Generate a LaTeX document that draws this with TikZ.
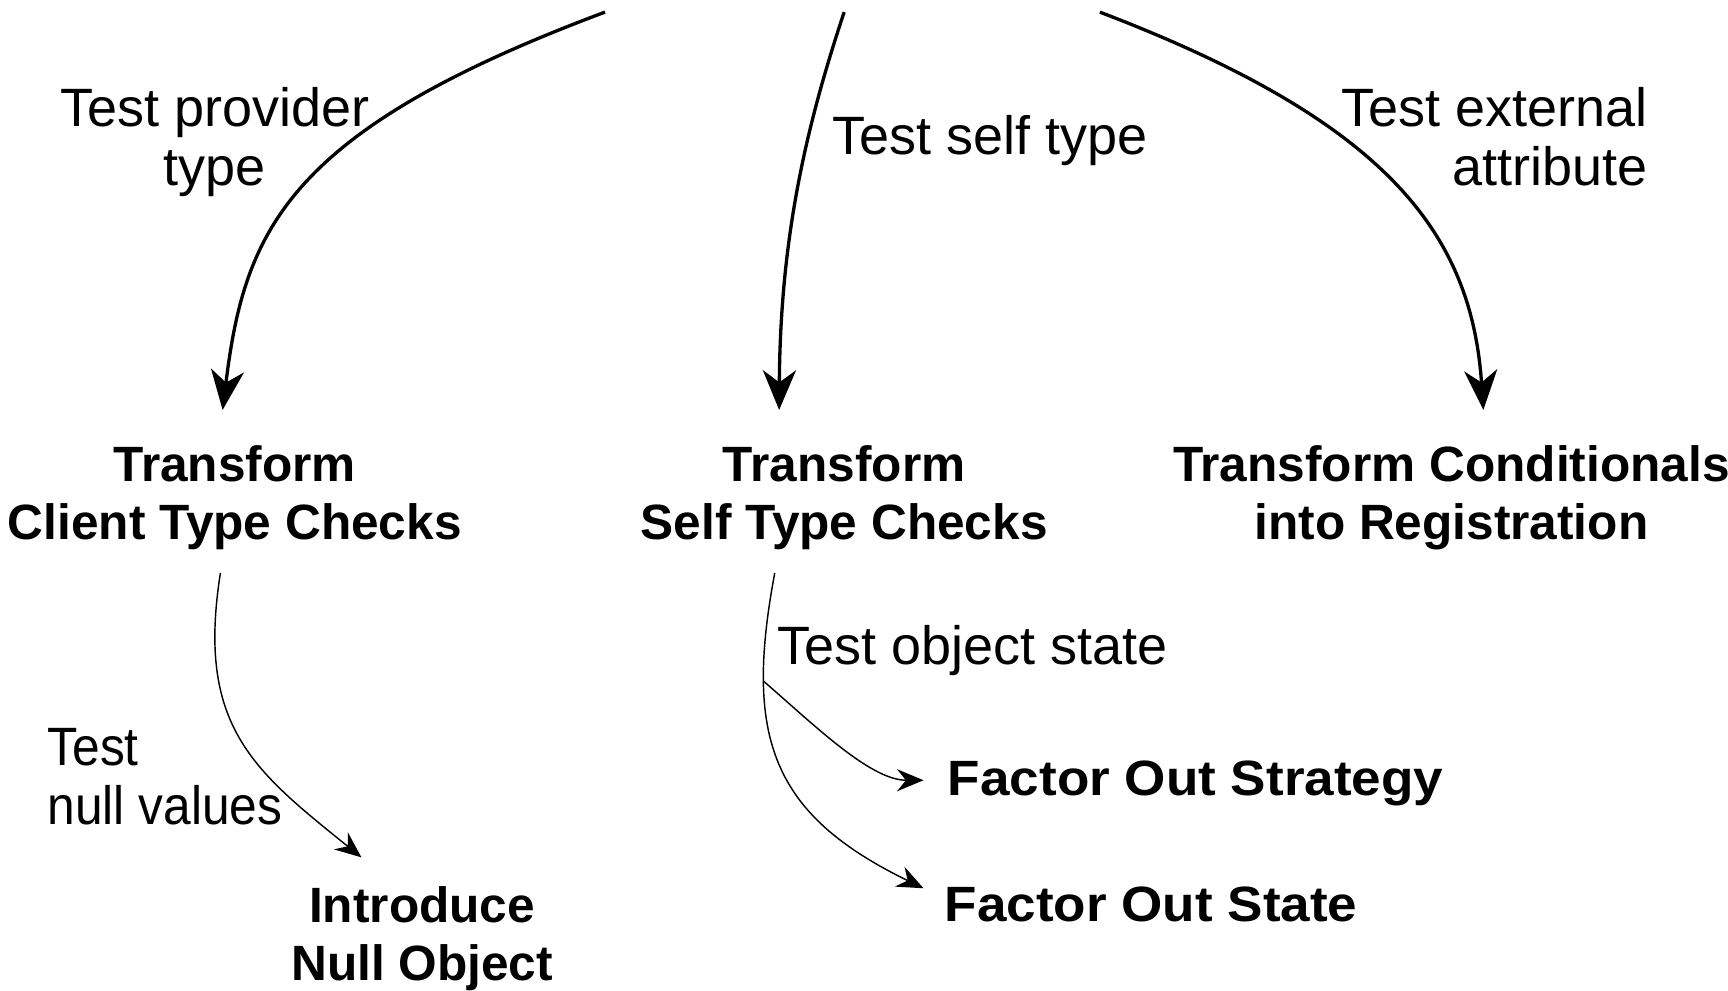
\documentclass[tikz,border=0pt]{standalone}
\usepackage{fontspec}
\setmainfont{Liberation Sans}
\usetikzlibrary{arrows.meta}
\begin{document}
\begin{tikzpicture}[x=1pt,y=1pt,
  target/.style={font=\fontsize{45}{53}\selectfont\bfseries, inner sep=0pt, align=center},
  wide/.style={font=\fontsize{45}{53}\selectfont\bfseries\addfontfeatures{FakeStretch=1.07}},
  lbl/.style={font=\fontsize{49}{53}\selectfont, inner sep=0pt},
  narrow/.style={font=\fontsize{49}{53}\selectfont\addfontfeatures{FakeStretch=0.92}},
  thick arrow/.style={line width=3pt, -{Stealth[length=36pt,width=30pt,inset=11pt]}},
  thin arrow/.style={line width=1.3pt, -{Stealth[length=24pt,width=20pt,inset=8pt]}}]
\useasboundingbox (0,0) rectangle (1568,899);

% target nodes (base = baseline of last line)
\node[target, anchor=base] (tcc) at (213,409) {Transform\\Client Type Checks};
\node[target, anchor=base] (tsc) at (766,409) {Transform\\Self Type Checks};
\node[target, anchor=base] (tcr) at (1317,409) {Transform Conditionals\\into Registration};
\node[target, anchor=base] (ino) at (383,9) {Introduce\\Null Object};
\node[target, wide, anchor=base west] (fos) at (860,177) {Factor Out Strategy};
\node[target, wide, anchor=base west] (fst) at (857,63) {Factor Out State};

% labels
\node[lbl, align=center, anchor=base] (lp) at (195,731) {Test provider\\type};
\node[lbl, anchor=base west] (ls) at (755,759) {Test self type};
\node[lbl, align=right, anchor=base east] (le) at (1495,731) {Test external\\attribute};
\node[lbl, anchor=base west] (lo) at (705,296) {Test object state};
\node[lbl, narrow, align=left, anchor=base west] (ln) at (43,151) {Test\\null values};

% free ends
\coordinate (s1) at (549,888);
\coordinate (s2) at (766,888);
\coordinate (s3) at (998,888);
\coordinate (e1) at (202,527);
\coordinate (e2) at (707,527);
\coordinate (e3) at (1346,527);
\coordinate (s4) at (200,379);
\coordinate (e4) at (328,121);
\coordinate (s5) at (703,379);
\coordinate (e5) at (838,93);
\coordinate (e6) at (838,191);

\draw[thick arrow] (s1) .. controls (260,780) and (222,690) .. (e1);
\draw[thick arrow] (s2) .. controls (730,780) and (708,680) .. (e2);
\draw[thick arrow] (s3) .. controls (1255,790) and (1335,690) .. (e3);
\draw[thin arrow] (s4) .. controls (178,240) and (230,200) .. (e4);
\draw[thin arrow] (s5) .. controls (675,230) and (700,160) .. coordinate[pos=0.25] (br) (e5);
\draw[thin arrow] (br) .. controls (740,240) and (790,191) .. (e6);
\end{tikzpicture}
\end{document}
